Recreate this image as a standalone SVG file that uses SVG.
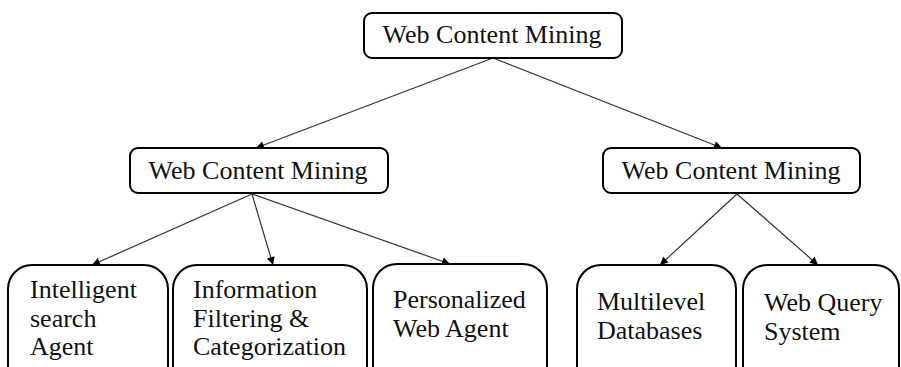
<svg xmlns="http://www.w3.org/2000/svg" width="901" height="367" viewBox="0 0 901 367">
<style>
.box{fill:#fff;stroke:#000;stroke-width:2}
.t{font-family:"Liberation Serif","DejaVu Serif","Times New Roman",serif;font-size:26px;fill:#111}
.c{text-anchor:middle}
.edge{stroke:#333;stroke-width:1.2;fill:none;marker-end:url(#ah)}
</style>
<defs>
<marker id="ah" viewBox="0 0 10 10" refX="10" refY="5" markerWidth="10" markerHeight="8" markerUnits="userSpaceOnUse" orient="auto">
<path d="M0,0 L10,5 L0,10 z" fill="#000"/>
</marker>
</defs>
<rect width="901" height="367" fill="#fff"/>
<g id="connectors">
<line class="edge" x1="493" y1="58" x2="256" y2="148"/>
<line class="edge" x1="493" y1="58" x2="722" y2="148"/>
<line class="edge" x1="252" y1="194" x2="92" y2="265"/>
<line class="edge" x1="252" y1="194" x2="273" y2="265"/>
<line class="edge" x1="252" y1="194" x2="450" y2="264"/>
<line class="edge" x1="737" y1="194" x2="660" y2="265"/>
<line class="edge" x1="737" y1="194" x2="818" y2="265"/>
</g>
<g id="root">
<rect class="box" x="364" y="13" width="258" height="45" rx="8"/>
<text class="t c" x="492" y="43">Web Content Mining</text>
</g>
<g id="left">
<rect class="box" x="130" y="148" width="258" height="45" rx="8"/>
<text class="t c" x="258" y="179">Web Content Mining</text>
</g>
<g id="right">
<rect class="box" x="603" y="148" width="257" height="45" rx="8"/>
<text class="t c" x="731" y="179">Web Content Mining</text>
</g>
<g id="intelligent">
<rect class="box" x="8" y="265" width="160" height="125" rx="24"/>
<text class="t" x="30" y="298">Intelligent</text>
<text class="t" x="30" y="327">search</text>
<text class="t" x="30" y="355">Agent</text>
</g>
<g id="information">
<rect class="box" x="173" y="265" width="194" height="125" rx="24"/>
<text class="t" x="193" y="298">Information</text>
<text class="t" x="193" y="327">Filtering &amp;</text>
<text class="t" x="193" y="355">Categorization</text>
</g>
<g id="personalized">
<rect class="box" x="373" y="264" width="174" height="126" rx="24"/>
<text class="t" x="393" y="308">Personalized</text>
<text class="t" x="393" y="337">Web Agent</text>
</g>
<g id="multilevel">
<rect class="box" x="577" y="265" width="159" height="125" rx="24"/>
<text class="t" x="597" y="310">Multilevel</text>
<text class="t" x="597" y="339">Databases</text>
</g>
<g id="webquery">
<rect class="box" x="743" y="265" width="156" height="125" rx="24"/>
<text class="t" x="764" y="311">Web Query</text>
<text class="t" x="764" y="340">System</text>
</g>
</svg>
